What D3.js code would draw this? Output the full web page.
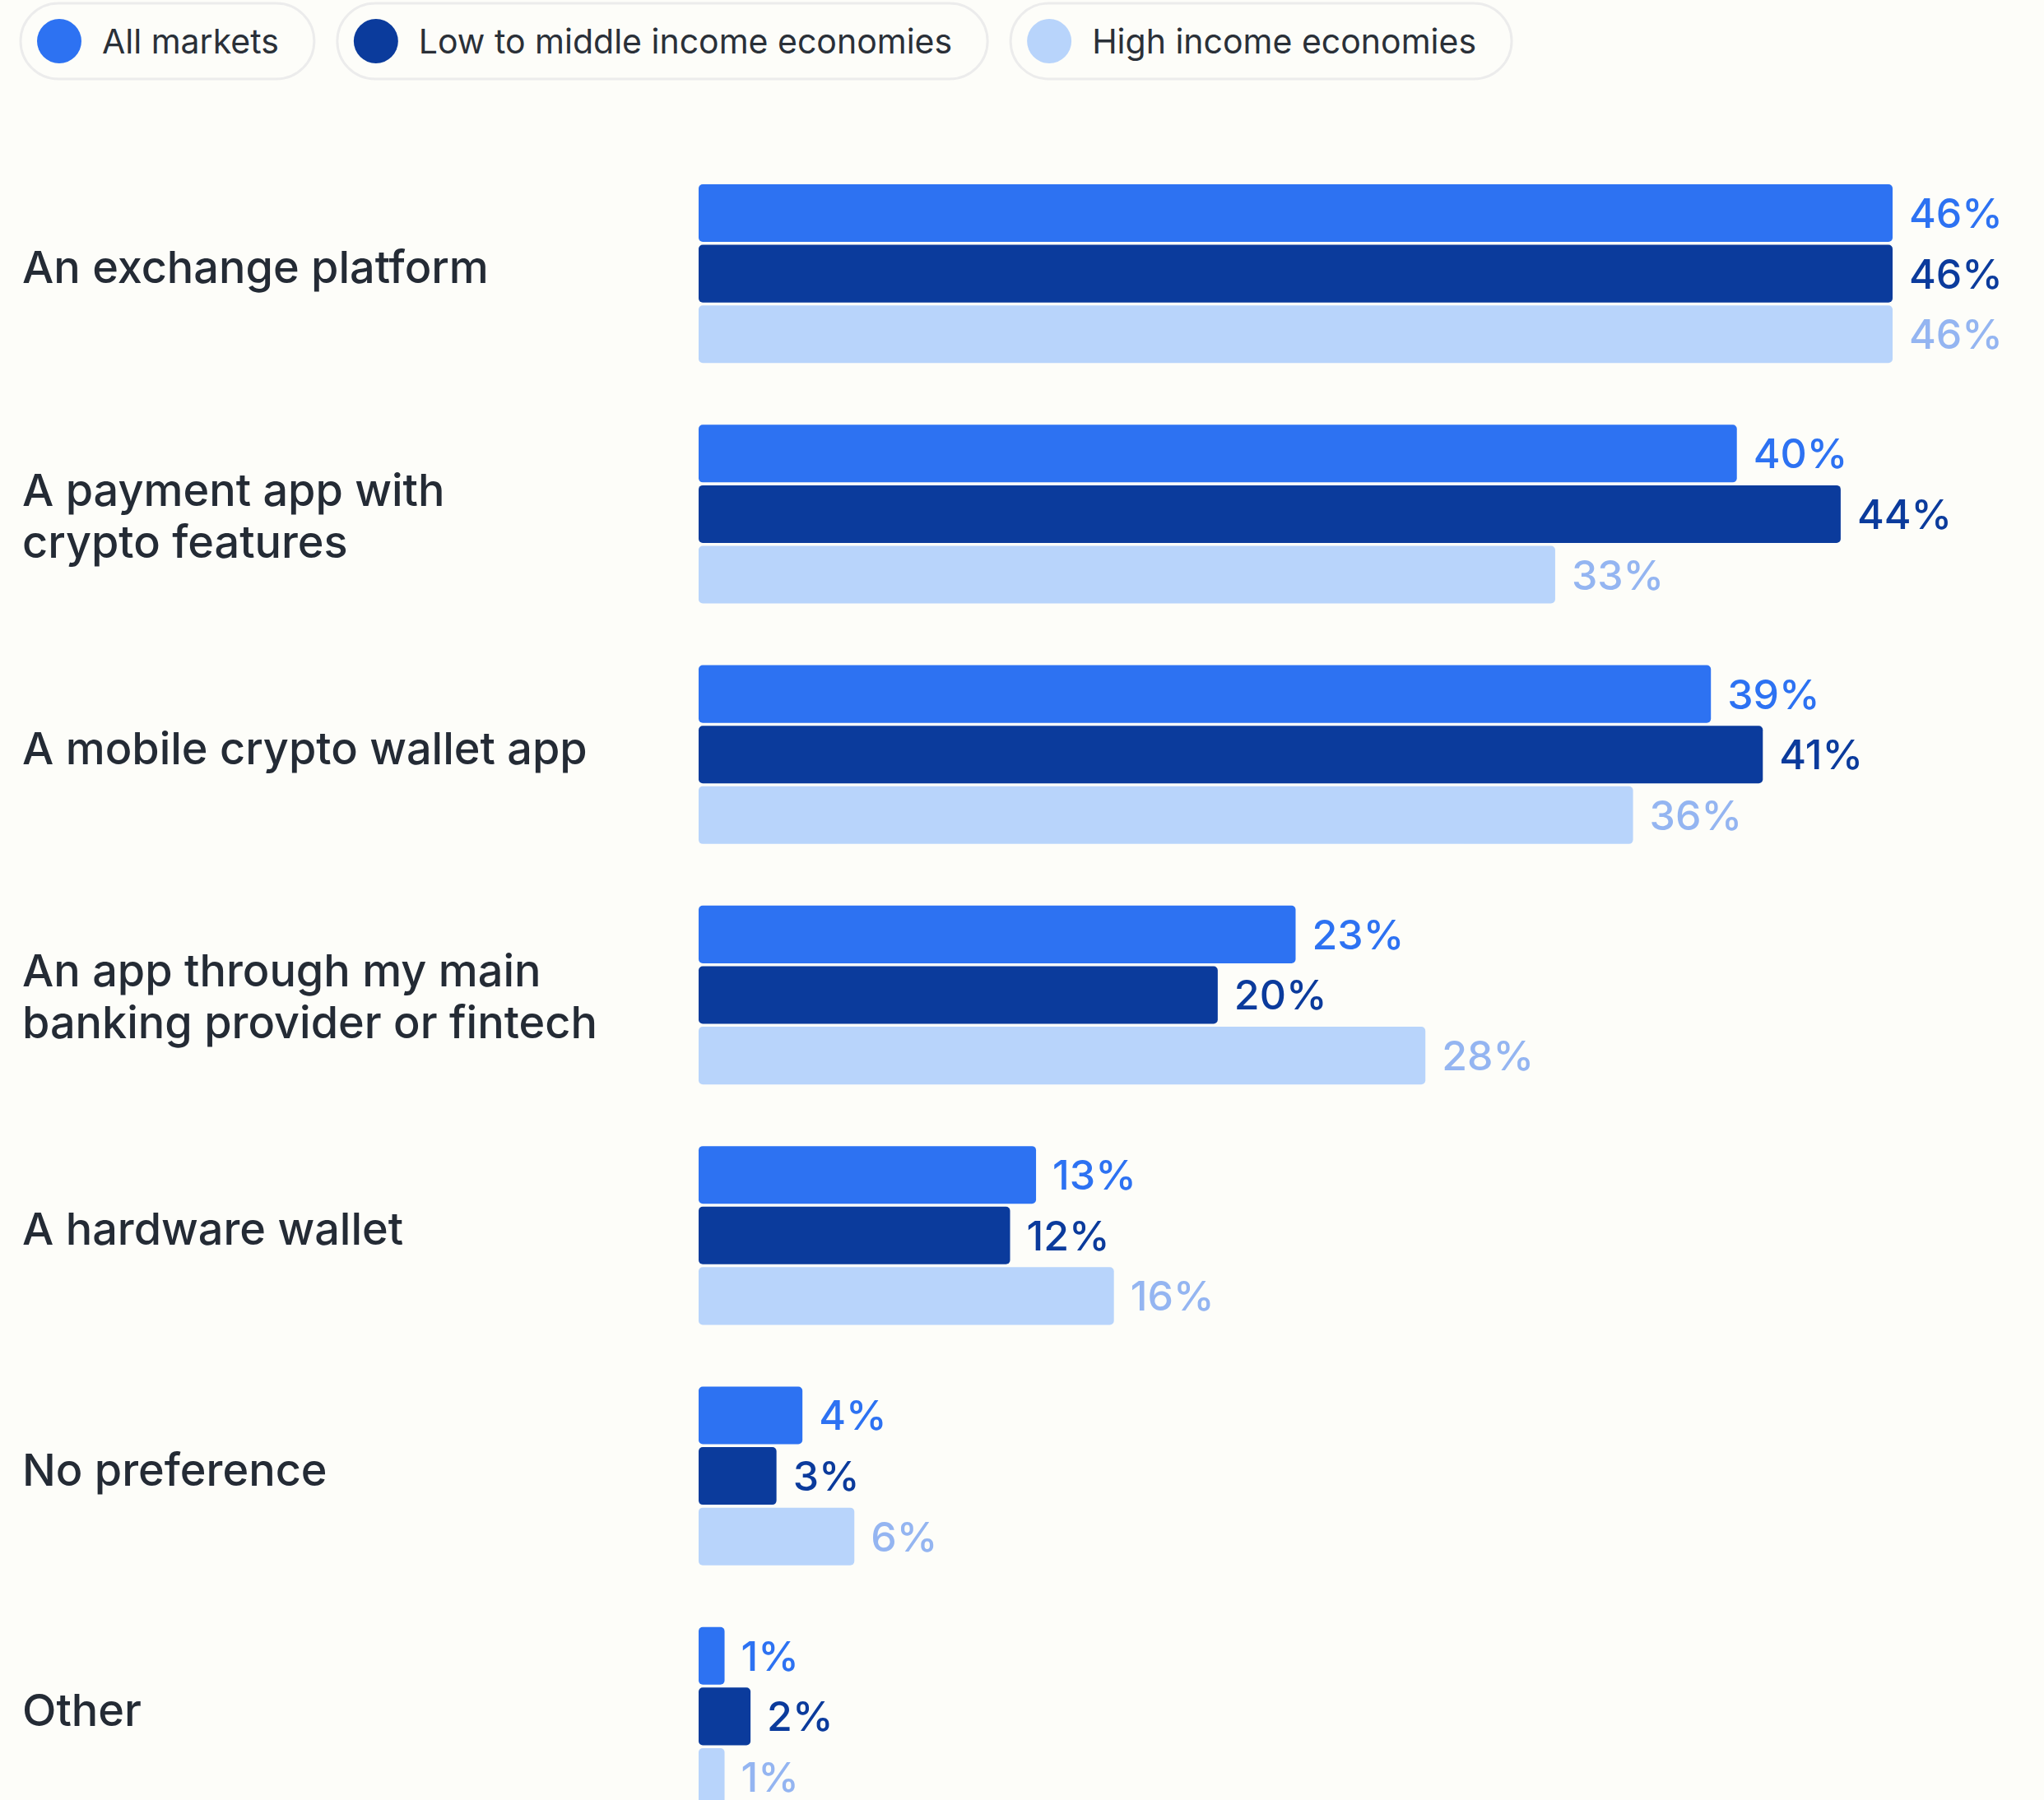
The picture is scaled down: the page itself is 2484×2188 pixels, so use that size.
<!DOCTYPE html>
<html lang="en">
<head>
  <meta charset="utf-8" />
  <title>Crypto platform preference</title>
  <script src="https://cdn.jsdelivr.net/npm/d3@7"></script>
  <style>
    body { margin: 0; background: #fdfdf9; overflow: hidden; }
    svg { display: block; }
    .label { font-family: Inter, "Noto Sans", sans-serif; font-weight: 500; fill: #242b35; }
    .value { font-family: Inter, "Noto Sans", sans-serif; font-weight: 500; }
    .legend text { font-family: Inter, "Noto Sans", sans-serif; font-weight: 400; fill: #2a3038; }
  </style>
</head>
<body>
  <script>
    var categories = [
      ["An exchange platform"],
      ["A payment app with", "crypto features"],
      ["A mobile crypto wallet app"],
      ["An app through my main", "banking provider or fintech"],
      ["A hardware wallet"],
      ["No preference"],
      ["Other"]
    ];
    var seriesNames = ["All markets", "Low to middle income economies", "High income economies"];
    var allMarkets = [46, 40, 39, 23, 13, 4, 1];
    var lowMiddle = [46, 44, 41, 20, 12, 3, 2];
    var highIncome = [46, 33, 36, 28, 16, 6, 1];

    var barColors = ["#2d72f2", "#0b3b9c", "#b8d4fb"];
    var textColors = ["#2d72f2", "#0b3b9c", "#94b5f1"];

    var width = 2484, height = 2188;
    var svg = d3.select("body").append("svg")
      .attr("width", width)
      .attr("height", height);

    var series = [allMarkets, lowMiddle, highIncome];
    var keys = categories.map(function (c) { return c.join(" "); });

    var x = d3.scaleLinear().domain([0, 46]).range([849, 2300]);
    var y = d3.scaleBand().domain(keys).range([224, 2195]).paddingInner(0.2566).paddingOuter(0);
    var ySub = d3.scaleBand().domain(d3.range(3)).range([0, y.bandwidth()]).paddingInner(0.048);

    // category labels (one or two lines)
    var labels = svg.append("g");
    categories.forEach(function (lines, i) {
      var cy = y(keys[i]) + y.bandwidth() / 2 + (lines.length > 1 ? 2 : -8);
      var lh = 63;
      var t = labels.append("text")
        .attr("class", "label")
        .attr("font-size", 54);
      lines.forEach(function (line, k) {
        t.append("tspan")
          .attr("x", 27)
          .attr("y", cy + (k - (lines.length - 1) / 2) * lh)
          .attr("dy", "0.36em")
          .text(line);
      });
    });

    // bars
    var groups = svg.append("g").selectAll("g")
      .data(keys)
      .join("g")
      .attr("transform", function (d) { return "translate(0," + y(d) + ")"; });

    groups.each(function (d, i) {
      var g = d3.select(this);
      series.forEach(function (s, j) {
        g.append("rect")
          .attr("x", x(0))
          .attr("y", ySub(j))
          .attr("width", x(s[i]) - x(0))
          .attr("height", ySub.bandwidth())
          .attr("rx", 5)
          .attr("fill", barColors[j]);
        g.append("text")
          .attr("class", "value")
          .attr("x", x(s[i]) + 20)
          .attr("y", ySub(j) + ySub.bandwidth() / 2)
          .attr("dy", "0.36em")
          .attr("font-size", 50)
          .attr("fill", textColors[j])
          .text(s[i] + "%");
      });
    });

    // legend pills
    var legend = svg.append("g").attr("class", "legend");
    var lx = 25;
    seriesNames.forEach(function (name, j) {
      var item = legend.append("g");
      var txt = item.append("text")
        .attr("x", lx + 99)
        .attr("y", 50)
        .attr("dy", "0.36em")
        .attr("font-size", 41)
        .text(name);
      var tw = txt.node().getComputedTextLength();
      var pw = 99 + tw + 43;
      item.insert("rect", "text")
        .attr("x", lx)
        .attr("y", 4)
        .attr("width", pw)
        .attr("height", 92)
        .attr("rx", 46)
        .attr("fill", "#fdfdf9")
        .attr("stroke", "#ececec")
        .attr("stroke-width", 3);
      item.append("circle")
        .attr("cx", lx + 47)
        .attr("cy", 50)
        .attr("r", 27)
        .attr("fill", barColors[j]);
      lx += pw + 28;
    });
  </script>
</body>
</html>
